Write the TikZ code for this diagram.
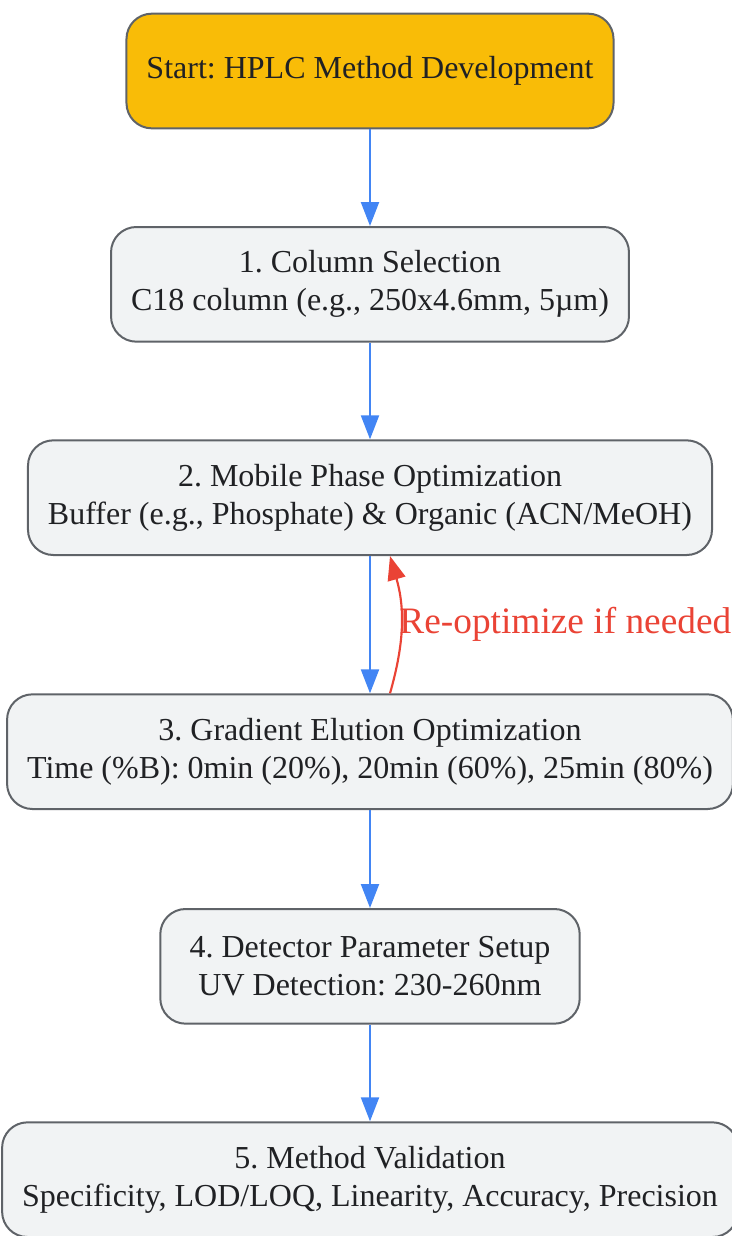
\documentclass[tikz,border=0pt]{standalone}
\usepackage{fontspec}
\setmainfont{Liberation Serif}
\usetikzlibrary{positioning,arrows.meta}
\definecolor{startfill}{HTML}{F9BC07}
\definecolor{boxfill}{HTML}{F1F3F4}
\definecolor{boxline}{HTML}{5F6368}
\definecolor{flowblue}{HTML}{4285F4}
\definecolor{loopred}{HTML}{EA4335}
\definecolor{textcol}{HTML}{202124}
\frenchspacing
\begin{document}
\begin{tikzpicture}[x=0.75pt,y=0.75pt,node distance=72.5pt,
        stepbox/.style={draw=boxline,line width=1.5pt,fill=boxfill,rounded corners=19pt,minimum height=86pt,inner xsep=15pt,align=center,text=textcol,font=\fontsize{24}{28.5}\selectfont},
        startbox/.style={stepbox,fill=startfill},
        flow/.style={draw=flowblue,line width=1.6pt,-{Triangle[length=18pt,width=13.5pt]}},
        back/.style={draw=loopred,line width=1.6pt,-{Triangle[length=18pt,width=13.5pt]}}]
        \useasboundingbox(0,0)rectangle(732,-1236);
        \node[startbox](start)at(370,-71){Start: HPLC Method Development};
        \node[stepbox,below=of start](column){1. Column Selection\\C18 column (e.g., 250x4.6mm, 5µm)};
        \node[stepbox,below=of column](mobile){2. Mobile Phase Optimization\\Buffer (e.g., Phosphate) \& Organic (ACN/MeOH)};
        \node[stepbox,below=103pt of mobile](gradient){3. Gradient Elution Optimization\\Time (\%B): 0min (20\%), 20min (60\%), 25min (80\%)};
        \node[stepbox,below=73.5pt of gradient,inner xsep=22pt](detector){4. Detector Parameter Setup\\UV Detection: 230-260nm};
        \node[stepbox,below=of detector](valid){5. Method Validation\\Specificity, LOD/LOQ, Linearity, Accuracy, Precision};
        % main flow
        \draw[flow](start)--(column);
        \draw[flow](column)--(mobile);
        \draw[flow](mobile)--(gradient);
        \draw[flow](gradient)--(detector);
        \draw[flow](detector)--(valid);
        % loop back
        \draw[back]([xshift=15pt]gradient.north)to[bend right=16]node[right,inner sep=0pt,xshift=-2pt,text=loopred,font=\fontsize{28}{33}\selectfont]{Re-optimize if needed}([xshift=15pt]mobile.south);
\end{tikzpicture}
\end{document}
